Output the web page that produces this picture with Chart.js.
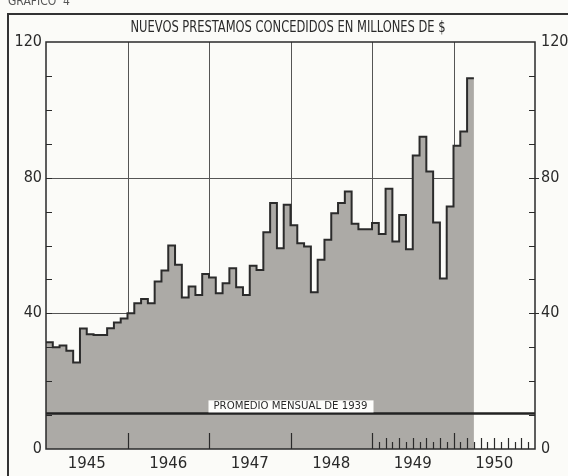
<!DOCTYPE html>
<html>
<head>
<meta charset="utf-8">
<script src="https://cdn.jsdelivr.net/npm/chart.js@4.4.1/dist/chart.umd.min.js"></script>
<style>
  body { margin: 0; background: #fbfbf8; }
  canvas { display: block; }
</style>
</head>
<body>
<canvas id="chart-1" width="568" height="476"></canvas>
<script>
// Nuevos prestamos concedidos, millones de $, mensual (ene 1945 - mar 1950)
var years = ["1945", "1946", "1947", "1948", "1949", "1950"];
var p1945 = [31.5, 30, 30.5, 29, 25.5, 35.5, 33.8, 33.6, 33.6, 35.6, 37.3, 38.5];
var p1946 = [40, 43, 44.2, 43, 49.4, 52.6, 60, 54.3, 44.7, 47.9, 45.4, 51.6];
var p1947 = [50.6, 45.9, 48.9, 53.3, 47.7, 45.4, 54, 52.8, 63.9, 72.5, 59.2, 72];
var p1948 = [66, 60.7, 59.7, 46.2, 55.8, 61.7, 69.5, 72.5, 75.9, 66.4, 64.8, 64.8];
var p1949 = [66.6, 63.4, 76.7, 61.2, 69, 58.9, 86.5, 92.1, 81.8, 66.8, 50.3, 71.5];
var p1950 = [89.4, 93.6, 109.3];
var promedio1939 = [10.5];
var yTicks = [0, 40, 80, 120];

var prestamos = p1945.concat(p1946, p1947, p1948, p1949, p1950);
var puntos = prestamos.map(function (v, i) { return { x: i, y: v }; });
// close the last month step
puntos.push({ x: prestamos.length, y: prestamos[prestamos.length - 1] });
var nMeses = years.length * 12;

var ink = '#2a2a2a';
var narrow = '"Liberation Sans Narrow", "DejaVu Sans Condensed", sans-serif';

function fitText(ctx, txt, cx, cy, w) {
  var m = ctx.measureText(txt).width;
  ctx.save();
  ctx.translate(cx, cy);
  ctx.scale(w / m, 1);
  ctx.textAlign = 'center';
  ctx.textBaseline = 'middle';
  ctx.fillText(txt, 0, 0);
  ctx.restore();
}

function seg(ctx, x1, y1, x2, y2) {
  ctx.beginPath(); ctx.moveTo(x1, y1); ctx.lineTo(x2, y2); ctx.stroke();
}

var decor = {
  id: 'decor',
  beforeDraw: function (chart) {
    var ctx = chart.ctx;
    ctx.save();
    ctx.fillStyle = '#fbfbf8';
    ctx.fillRect(0, 0, chart.width, chart.height);
    // frame of the printed page
    ctx.strokeStyle = '#333';
    ctx.lineWidth = 2;
    ctx.beginPath();
    ctx.moveTo(8, chart.height); ctx.lineTo(8, 14); ctx.lineTo(chart.width, 14);
    ctx.stroke();
    ctx.fillStyle = '#555';
    ctx.font = '12px ' + narrow;
    ctx.textBaseline = 'alphabetic';
    ctx.fillText('GRAFICO  4', 8, 5);
    // title
    ctx.fillStyle = ink;
    ctx.font = '16px ' + narrow;
    fitText(ctx, 'NUEVOS PRESTAMOS CONCEDIDOS EN MILLONES DE $', 288, 28, 315);
    ctx.restore();
  },
  beforeDatasetsDraw: function (chart) {
    var ctx = chart.ctx, x = chart.scales.x, y = chart.scales.y, a = chart.chartArea;
    ctx.save();
    ctx.strokeStyle = '#555';
    ctx.lineWidth = 1;
    for (var k = 12; k < nMeses; k += 12) {
      var px = Math.round(x.getPixelForValue(k)) + 0.5;
      seg(ctx, px, a.top, px, a.bottom);
    }
    [40, 80].forEach(function (v) {
      var py = Math.round(y.getPixelForValue(v)) + 0.5;
      seg(ctx, a.left, py, x.getPixelForValue(nMeses - 12), py);
    });
    ctx.restore();
  },
  afterDatasetsDraw: function (chart) {
    var ctx = chart.ctx, x = chart.scales.x, y = chart.scales.y, a = chart.chartArea;
    ctx.save();
    ctx.strokeStyle = ink;
    ctx.lineWidth = 1.5;
    ctx.strokeRect(a.left, a.top, a.right - a.left, a.bottom - a.top);
    // minor ticks on the value axes
    ctx.lineWidth = 1;
    for (var v = 10; v < 120; v += 10) {
      var py = Math.round(y.getPixelForValue(v)) + 0.5;
      seg(ctx, a.left, py, a.left + 6, py);
      seg(ctx, a.right - 6, py, a.right + (v % 40 === 0 ? 4 : 0), py);
    }
    // month ticks along the base
    ctx.lineWidth = 1.2;
    for (var k = 12; k < nMeses; k++) {
      var h = 0;
      if (k % 12 === 0) h = 16;
      else if (k >= 48) h = (k % 2 === 0) ? 11 : 7;
      if (!h) continue;
      var px = Math.round(x.getPixelForValue(k)) + 0.5;
      seg(ctx, px, a.bottom, px, a.bottom - h);
    }
    // label of the 1939 average
    var ly = y.getPixelForValue(promedio1939[0]);
    var lx = x.getPixelForValue(36);
    ctx.fillStyle = '#fdfdfb';
    ctx.fillRect(lx - 82, ly - 13, 165, 12);
    ctx.fillStyle = ink;
    ctx.font = '10px ' + narrow;
    fitText(ctx, 'PROMEDIO MENSUAL DE 1939', lx, ly - 7, 154);
    ctx.restore();
  }
};

var axisFont = { family: narrow, size: 16 };

new Chart(document.getElementById('chart-1'), {
  type: 'line',
  data: {
    datasets: [{
      label: 'Promedio mensual de 1939',
      data: [{ x: 0, y: promedio1939[0] }, { x: nMeses, y: promedio1939[0] }],
      borderColor: '#222',
      borderWidth: 2.5,
      pointRadius: 0,
      fill: false
    }, {
      label: 'Nuevos prestamos',
      data: puntos,
      stepped: true,
      borderColor: '#2b2b2b',
      borderWidth: 2,
      pointRadius: 0,
      backgroundColor: 'rgb(172,170,166)',
      fill: 'origin'
    }]
  },
  options: {
    responsive: false,
    animation: false,
    devicePixelRatio: 1,
    layout: { padding: { top: 42, left: 0, right: 0, bottom: 0 } },
    plugins: { legend: { display: false }, tooltip: { enabled: false } },
    scales: {
      x: {
        type: 'linear', min: 0, max: nMeses,
        grid: { display: false, drawTicks: false }, border: { display: false },
        afterBuildTicks: function (s) { s.ticks = years.map(function (yr, i) { return { value: 6 + 12 * i }; }); },
        ticks: {
          autoSkip: false, maxRotation: 0, padding: 6, color: ink,
          font: { family: 'DejaVu Sans', size: 15 },
          callback: function (v) { return years[(v - 6) / 12]; }
        },
        afterFit: function (s) { s.height = 27; }
      },
      y: {
        min: 0, max: 120, position: 'left',
        grid: { display: false, drawTicks: false }, border: { display: false },
        afterBuildTicks: function (s) { s.ticks = yTicks.map(function (v) { return { value: v }; }); },
        ticks: { padding: 4, color: ink, font: axisFont },
        afterFit: function (s) { s.width = 46; }
      },
      y2: {
        min: 0, max: 120, position: 'right',
        grid: { display: false, drawTicks: false }, border: { display: false },
        afterBuildTicks: function (s) { s.ticks = yTicks.map(function (v) { return { value: v }; }); },
        ticks: { padding: 6, color: ink, font: axisFont },
        afterFit: function (s) { s.width = 33; }
      }
    }
  },
  plugins: [decor]
});
</script>
</body>
</html>
